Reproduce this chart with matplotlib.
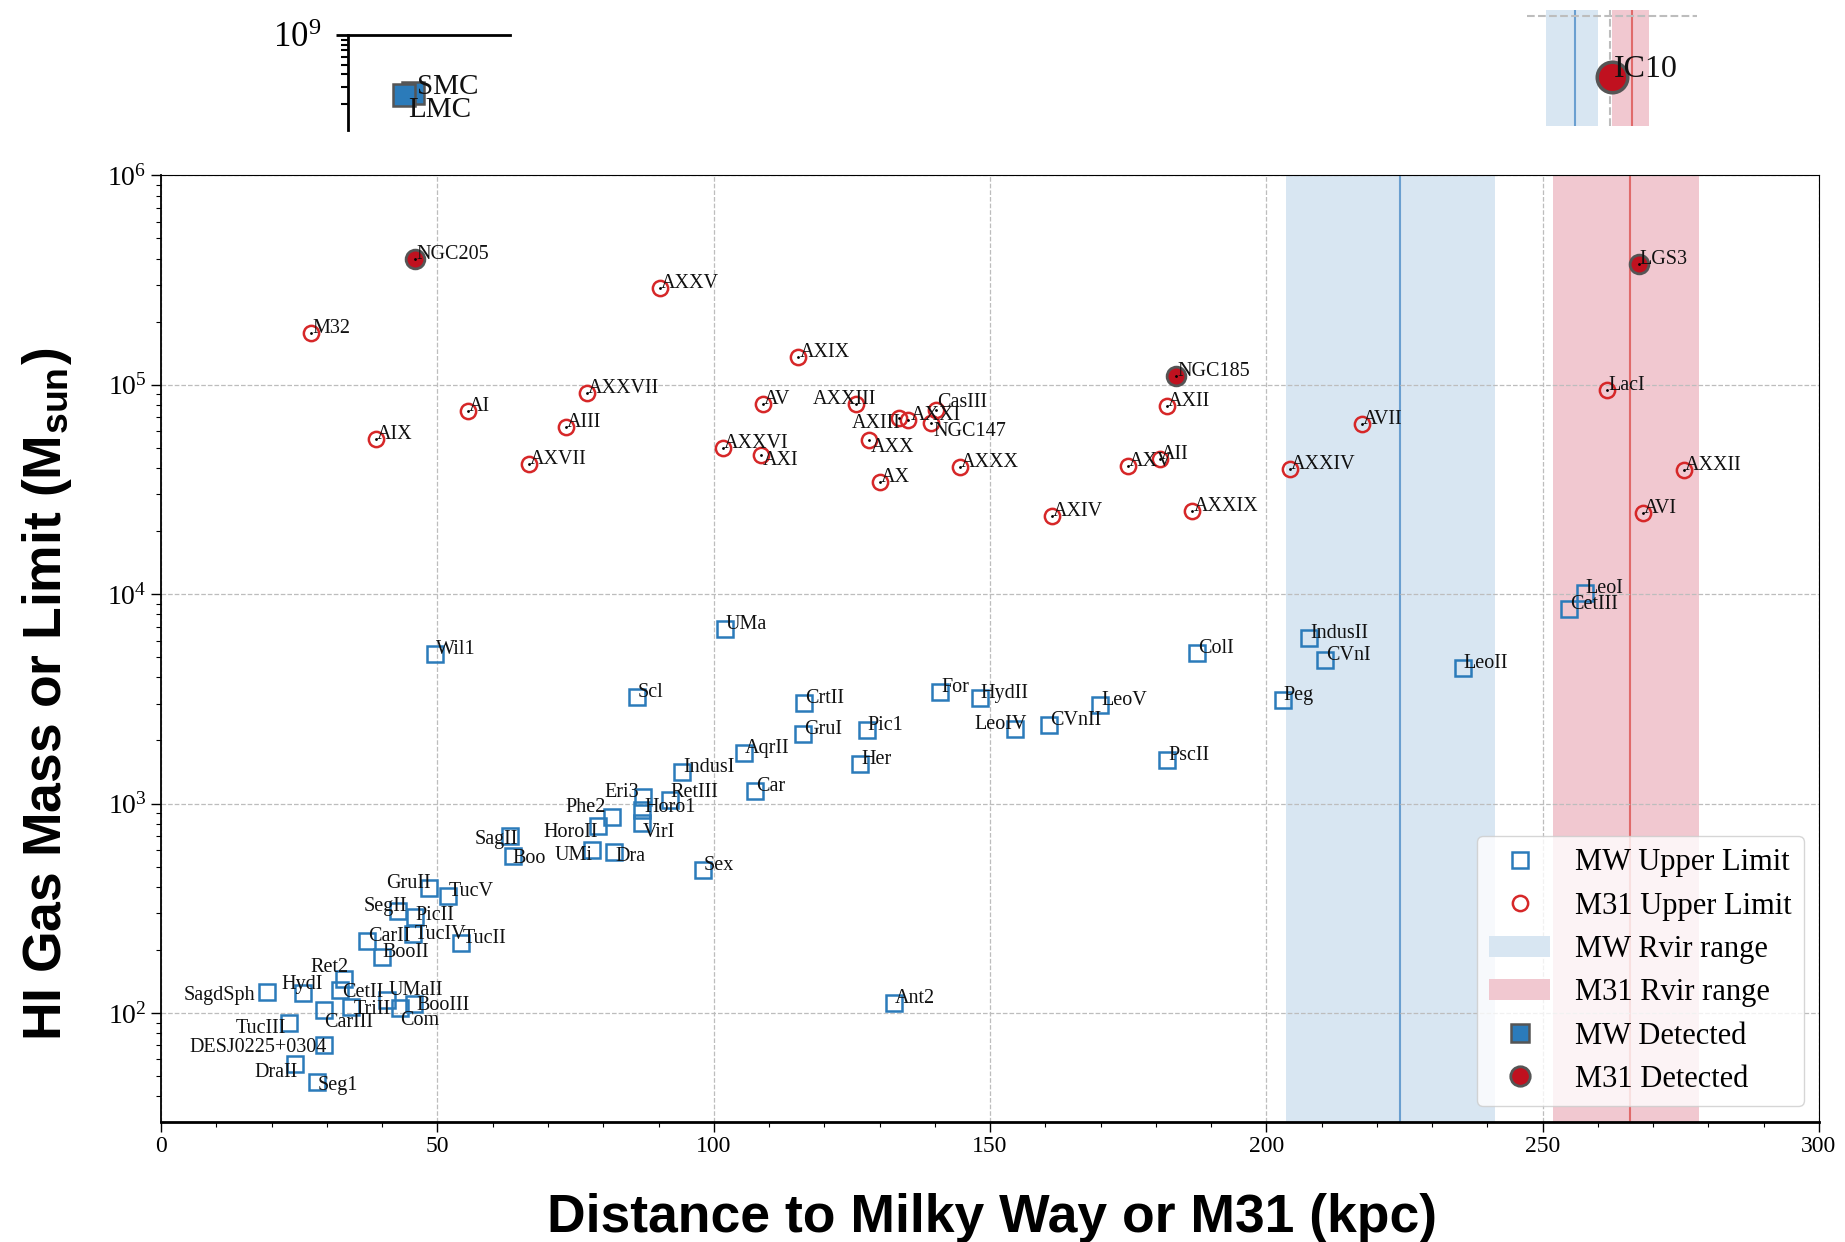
import numpy as np
import matplotlib
matplotlib.use("Agg")
import matplotlib.pyplot as plt
from matplotlib.lines import Line2D
from matplotlib.patches import Patch
from matplotlib.ticker import NullFormatter, LogLocator

# Milky Way satellites: HI upper limits
mw_names = ['SagdSph', 'HydI', 'TucIII', 'CarIII', 'DESJ0225+0304', 'DraII', 'Seg1',
            'Ret2', 'CetII', 'TriII', 'UMaII', 'Com', 'BooIII', 'CarII', 'BooII',
            'SegII', 'PicII', 'TucIV', 'GruII', 'TucV', 'TucII', 'Wil1', 'SagII',
            'Boo', 'UMi', 'HoroII', 'Phe2', 'Dra', 'Eri3', 'Horo1', 'VirI', 'Scl',
            'RetIII', 'IndusI', 'Sex', 'UMa', 'AqrII', 'Car', 'GruI', 'CrtII', 'Her',
            'Pic1', 'Ant2', 'For', 'HydII', 'LeoIV', 'CVnII', 'LeoV', 'PscII', 'ColI',
            'Peg', 'IndusII', 'CVnI', 'LeoII', 'CetIII', 'LeoI']
mw_dist = [19.1, 25.7, 23.2, 29.5, 29.5, 24.2, 28.2,
           33.0, 32.4, 34.4, 40.8, 43.2, 45.8, 37.2, 39.9,
           42.9, 45.9, 45.5, 48.5, 51.9, 54.3, 49.6, 63.1,
           63.6, 78.0, 79.0, 81.5, 82.0, 87.2, 87.0, 87.0, 86.1,
           92.0, 94.3, 98.0, 102.0, 105.4, 107.5, 116.2, 116.4, 126.5,
           127.7, 132.6, 141.0, 148.1, 154.6, 160.6, 169.9, 182.1, 187.5,
           203.0, 207.7, 210.7, 235.5, 254.8, 257.6]
mw_mhi = [126, 124, 90, 103, 70, 57, 46.6,
          146, 128, 107, 115, 106, 110, 220, 185,
          306, 287, 237, 396, 360, 215, 5170, 698,
          560, 603, 780, 858, 587, 1076, 936, 809, 3236,
          1037, 1416, 481, 6850, 1746, 1149, 2158, 3006, 1542,
          2240, 112, 3415, 3206, 2280, 2366, 2953, 1622, 5210,
          3118, 6140, 4840, 4415, 8450, 10070]

# M31 satellites: HI upper limits
m31_names = ['M32', 'AIX', 'AI', 'AXVII', 'AIII', 'AXXVII', 'AXXV', 'AXXVI', 'AXI',
             'AV', 'AXIX', 'AXXIII', 'AXX', 'AX', 'AXIII', 'AXXI', 'NGC147', 'CasIII',
             'AXXX', 'AXIV', 'AXV', 'AII', 'AXII', 'AXXIX', 'AXXIV', 'AVII', 'LacI',
             'AVI', 'AXXII']
m31_dist = [27.1, 38.8, 55.5, 66.6, 73.2, 77.0, 90.3, 101.7, 108.5,
            108.9, 115.3, 125.7, 128.1, 130.0, 133.6, 135.2, 139.4, 140.2,
            144.6, 161.2, 174.9, 180.7, 182.0, 186.6, 204.2, 217.3, 261.7,
            268.2, 275.5]
m31_mhi = [1.76e5, 5.52e4, 7.5e4, 4.17e4, 6.27e4, 9.1e4, 2.89e5, 4.97e4, 4.6e4,
           8.06e4, 1.35e5, 8.1e4, 5.45e4, 3.44e4, 6.9e4, 6.8e4, 6.6e4, 7.57e4,
           4.04e4, 2.37e4, 4.09e4, 4.4e4, 7.9e4, 2.5e4, 3.96e4, 6.49e4, 9.4e4,
           2.43e4, 3.92e4]

# detections
m31_det_names = ['NGC205', 'NGC185', 'LGS3']
m31_det_dist = [46.0, 183.7, 267.4]
m31_det_mhi = [4.0e5, 1.10e5, 3.78e5]

mw_det_names = ['SMC', 'LMC']
mw_det_dist = [64.0, 50.0]
mw_det_mhi = [2.6e8, 2.48e8]

ic10_dist = 251.2
ic10_mhi = 2.44e8

# virial radius ranges (kpc)
mw_rvir = (203.6, 241.4)
mw_rvir_mid = 224.1
m31_rvir = (251.8, 278.3)
m31_rvir_mid = 265.8

# label nudges in pixels: (dx, dy, ha)
label_shift = {
    'SagII': (8, -8, 'right'), 'GruII': (2, 0, 'right'), 'SegII': (9, 0, 'right'),
    'Ret2': (5, 7, 'right'), 'SagdSph': (-11, -8, 'right'), 'HydI': (20, 4, 'right'),
    'TucIII': (-3, -10, 'right'), 'DESJ0225+0304': (3, -7, 'right'),
    'DraII': (3, -13, 'right'), 'CarIII': (0, -17, 'left'), 'Seg1': (1, -8, 'left'),
    'Com': (0, -17, 'left'), 'TriII': (2, -7, 'left'), 'BooIII': (2, -6, 'left'),
    'UMaII': (2, 5, 'left'), 'CetII': (2, -7, 'left'), 'TucIV': (2, -5, 'left'),
    'PicII': (1, -3, 'left'), 'Boo': (0, -7, 'left'), 'Phe2': (-6, 5, 'right'),
    'HoroII': (0, -11, 'right'), 'UMi': (0, -10, 'right'), 'Dra': (1, -9, 'left'),
    'Eri3': (-4, 0, 'right'), 'Horo1': (2, -2, 'left'), 'VirI': (1, -14, 'left'),
    'RetIII': (1, 3, 'left'), 'LeoIV': (11, 0, 'right'),
    'AXXIII': (-43, 0, 'left'), 'AXIII': (1, -10, 'right'), 'AXXI': (3, 0, 'left'),
    'NGC147': (2, -13, 'left'), 'CasIII': (1, 3, 'left'), 'AXX': (2, -12, 'left'),
    'AXI': (2, -10, 'left'),
}

blue = '#2b7bba'
red = '#d62728'
dark_red = '#c0111f'
band_blue = '#d8e6f2'
band_red = '#f1c8d0'

plt.rcParams['font.family'] = ['Liberation Serif', 'DejaVu Serif']
plt.rcParams['mathtext.fontset'] = 'stix'
label_font = ['Liberation Sans Narrow', 'Liberation Sans', 'DejaVu Sans']

fig = plt.figure(figsize=(18.45, 12.42), dpi=100)
ax = fig.add_axes([0.08737, 0.09702, 0.8985, 0.7618])

ax.axvspan(*mw_rvir, color=band_blue, lw=0, zorder=0.2)
ax.axvline(mw_rvir_mid, color='#6a9fd0', lw=1.5, zorder=0.3)
ax.axvspan(*m31_rvir, color=band_red, lw=0, zorder=0.2)
ax.axvline(m31_rvir_mid, color='#e06a6a', lw=1.5, zorder=0.3)

ax.plot(mw_dist, mw_mhi, 's', ms=11, mfc='none', mec=blue, mew=1.8, ls='none', zorder=3)
ax.plot(m31_dist, m31_mhi, 'o', ms=11, mfc='none', mec=red, mew=1.8, ls='none', zorder=3)
ax.plot(m31_det_dist, m31_det_mhi, 'o', ms=13.5, mfc=dark_red, mec='#555555', mew=2,
        ls='none', zorder=4)
ax.plot(m31_dist + m31_det_dist, m31_mhi + m31_det_mhi, '.', ms=2, color='k', zorder=5)

for names, xs, ys in [(mw_names, mw_dist, mw_mhi), (m31_names, m31_dist, m31_mhi),
                      (m31_det_names, m31_det_dist, m31_det_mhi)]:
    for n, x, y in zip(names, xs, ys):
        dx, dy, ha = label_shift.get(n, (1, 0, 'left'))
        ax.annotate(n, (x, y), xytext=(dx, dy), textcoords='offset pixels',
                    ha=ha, va='baseline', fontsize=14.5, color='#111111', zorder=6)

ax.set_yscale('log')
ax.set_xlim(0, 300)
ax.set_ylim(30.3, 1e6)
ax.set_xticks(np.arange(0, 301, 50))
ax.set_xticks(np.arange(0, 301, 10), minor=True)
ax.set_axisbelow(True)
ax.grid(True, which='major', ls='--', color='#bdbdbd', lw=0.9)
ax.tick_params(which='major', direction='out', length=7, width=1)
ax.tick_params(axis='x', labelsize=17)
ax.tick_params(axis='y', labelsize=20)
ax.tick_params(which='minor', direction='out', length=3.5, width=0.8)
ax.spines['bottom'].set_linewidth(2)
ax.spines['left'].set_linewidth(1.3)

handles = [
    Line2D([], [], marker='s', ls='none', ms=11, mfc='none', mec=blue, mew=1.8),
    Line2D([], [], marker='o', ls='none', ms=11, mfc='none', mec=red, mew=1.8),
    Patch(color=band_blue, lw=0),
    Patch(color=band_red, lw=0),
    Line2D([], [], marker='s', ls='none', ms=13, mfc=blue, mec='#555555', mew=1.8),
    Line2D([], [], marker='o', ls='none', ms=14, mfc=dark_red, mec='#555555', mew=2),
]
labels = ['MW Upper Limit', 'M31 Upper Limit', 'MW Rvir range', 'M31 Rvir range',
          'MW Detected', 'M31 Detected']
leg = ax.legend(handles, labels, loc='lower right', fontsize=22, labelspacing=0.47,
                handlelength=2.0, handletextpad=0.8, borderaxespad=0.5,
                framealpha=0.8, fancybox=True)
leg.get_frame().set_edgecolor('#cccccc')

fig.text(0.5377, 0.008, 'Distance to Milky Way or M31 (kpc)', ha='center', va='baseline',
         fontsize=38.5, fontweight='bold', family=label_font)
fig.text(0.0255, 0.4412, r'HI Gas Mass or Limit (M$_{\mathregular{sun}}$)', rotation=90,
         ha='center', va='center', fontsize=38.5, fontweight='bold', family=label_font)

# upper-left piece: Magellanic Clouds
ax_l = fig.add_axes([0.18846, 0.89533, 0.08797, 0.07649])
ax_l.plot(mw_det_dist, mw_det_mhi, 's', ms=16, mfc=blue, mec='#555555', mew=1.8, ls='none')
for n, x, y, dy in zip(mw_det_names, mw_det_dist, mw_det_mhi, [-1, -22]):
    ax_l.annotate(n, (x, y), xytext=(4, dy), textcoords='offset pixels', ha='left',
                  va='baseline', fontsize=21, color='#111111')
ax_l.set_yscale('log')
ax_l.set_xlim(-37.6, 214.9)
ax_l.set_ylim(1.1e8, 1e9)
ax_l.set_xticks([])
ax_l.set_yticks([1e9])
ax_l.yaxis.set_minor_locator(LogLocator(base=10, subs=np.arange(2, 10)))
ax_l.yaxis.set_minor_formatter(NullFormatter())
ax_l.spines['bottom'].set_visible(False)
ax_l.spines['right'].set_visible(False)
ax_l.spines['left'].set_linewidth(2)
ax_l.spines['top'].set_linewidth(2)
ax_l.tick_params(axis='y', which='major', direction='out', length=9, width=2,
                 labelsize=25, pad=10)
ax_l.tick_params(axis='y', which='minor', direction='out', length=5, width=1.5)
ax_l.patch.set_alpha(0)

# upper-right piece: IC10
ax_r = fig.add_axes([0.82764, 0.89855, 0.09214, 0.0934])
ax_r.axvspan(*mw_rvir, color=band_blue, lw=0, zorder=0.2)
ax_r.axvline(mw_rvir_mid, color='#6a9fd0', lw=1.5, zorder=0.3)
ax_r.axvspan(*m31_rvir, color=band_red, lw=0, zorder=0.2)
ax_r.axvline(m31_rvir_mid, color='#e06a6a', lw=1.5, zorder=0.3)
ax_r.plot([ic10_dist], [ic10_mhi], 'o', ms=22, mfc=dark_red, mec='#555555', mew=2.5,
          ls='none', zorder=4)
ax_r.annotate('IC10', (ic10_dist, ic10_mhi), xytext=(2, 0), textcoords='offset pixels',
              ha='left', va='baseline', fontsize=23, color='#111111', zorder=5)
ax_r.set_yscale('log')
ax_r.set_xlim(189.4, 313.5)
ax_r.set_ylim(10 ** 7.9, 10 ** 9.06)
ax_r.set_xticks([250])
ax_r.set_yticks([1e9])
ax_r.minorticks_off()
ax_r.set_axisbelow(True)
ax_r.grid(True, ls='--', color='#bdbdbd', lw=1.5)
ax_r.tick_params(length=0, labelbottom=False, labelleft=False)
for s in ax_r.spines.values():
    s.set_visible(False)
ax_r.patch.set_alpha(0)

fig.savefig('out.png', dpi=100)
